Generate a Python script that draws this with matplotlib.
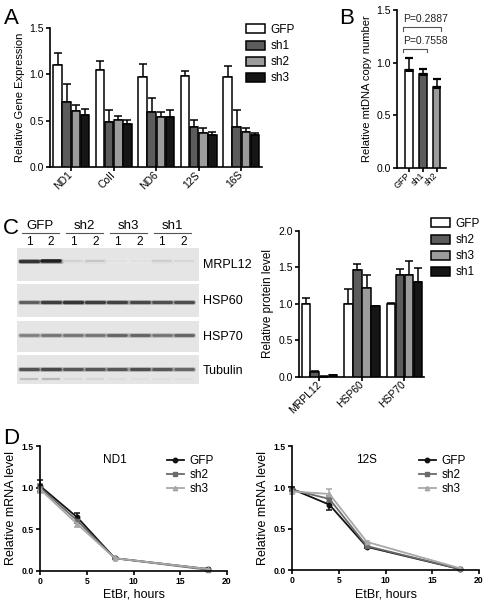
import numpy as np
import matplotlib
matplotlib.use("Agg")
import matplotlib.pyplot as plt
from matplotlib.patches import Patch, Rectangle
from matplotlib.lines import Line2D

plt.rcParams['font.family'] = ['Liberation Sans', 'DejaVu Sans']

# ---- panel A: mitochondrial transcripts
genes = ["ND1", "CoII", "ND6", "12S", "16S"]
a_names = ["GFP", "sh1", "sh2", "sh3"]
a_gfp = [1.10, 1.05, 0.97, 0.98, 0.97]
a_sh1 = [0.70, 0.49, 0.59, 0.43, 0.43]
a_sh2 = [0.60, 0.51, 0.54, 0.37, 0.38]
a_sh3 = [0.56, 0.46, 0.54, 0.35, 0.35]
a_gfp_err = [0.13, 0.09, 0.14, 0.06, 0.12]
a_sh1_err = [0.20, 0.13, 0.15, 0.08, 0.18]
a_sh2_err = [0.07, 0.04, 0.05, 0.05, 0.04]
a_sh3_err = [0.07, 0.05, 0.07, 0.03, 0.02]

# ---- panel B: mtDNA copy number
b_names = ["GFP", "sh1", "sh2"]
b_vals = [0.93, 0.89, 0.77]
b_err = [0.11, 0.05, 0.07]
b_pvals = ["P=0.7558", "P=0.2887"]

# ---- panel C: western blot + quantification
blot_groups = ["GFP", "sh2", "sh3", "sh1"]
lane_nums = ["1", "2", "1", "2", "1", "2", "1", "2"]
blot_proteins = ["MRPL12", "HSP60", "HSP70", "Tubulin"]
band_mrpl12 = [0.85, 0.95, 0.10, 0.15, 0.03, 0.03, 0.12, 0.08]
band_hsp60 = [0.65, 0.80, 0.85, 0.80, 0.78, 0.75, 0.72, 0.72]
band_hsp70 = [0.50, 0.55, 0.55, 0.55, 0.62, 0.62, 0.55, 0.62]
band_tubulin = [0.70, 0.75, 0.68, 0.68, 0.68, 0.72, 0.68, 0.62]
band_tub_low = [0.25, 0.30, 0.08, 0.10, 0.05, 0.05, 0.05, 0.05]

proteins = ["MRPL12", "HSP60", "HSP70"]
c_names = ["GFP", "sh2", "sh3", "sh1"]
c_gfp = [1.00, 1.00, 1.00]
c_sh2 = [0.06, 1.46, 1.39]
c_sh3 = [0.00, 1.22, 1.40]
c_sh1 = [0.02, 0.97, 1.30]
c_gfp_err = [0.08, 0.21, 0.01]
c_sh2_err = [0.02, 0.09, 0.09]
c_sh3_err = [0.01, 0.18, 0.19]
c_sh1_err = [0.01, 0.00, 0.19]

# ---- panel D: mRNA decay after EtBr
hours = [0, 4, 8, 18]
nd1_gfp = [1.02, 0.64, 0.15, 0.02]
nd1_sh2 = [1.00, 0.60, 0.15, 0.01]
nd1_sh3 = [0.98, 0.56, 0.15, 0.02]
nd1_gfp_err = [0.07, 0.05, 0.01, 0.01]
nd1_sh2_err = [0.04, 0.03, 0.01, 0.01]
nd1_sh3_err = [0.04, 0.03, 0.01, 0.01]
s12_gfp = [0.98, 0.79, 0.28, 0.01]
s12_sh2 = [0.97, 0.86, 0.29, 0.01]
s12_sh3 = [0.95, 0.92, 0.34, 0.02]
s12_gfp_err = [0.02, 0.07, 0.01, 0.01]
s12_sh2_err = [0.02, 0.04, 0.01, 0.01]
s12_sh3_err = [0.03, 0.06, 0.01, 0.01]

W, H = 486, 604
fig = plt.figure(figsize=(W / 100, H / 100), dpi=100)


def px(x0, ytop, x1, ybot):
    return [x0 / W, 1 - ybot / H, (x1 - x0) / W, (ybot - ytop) / H]


def style(ax, lw=1.2):
    for s in ["top", "right"]:
        ax.spines[s].set_visible(False)
    for s in ["left", "bottom"]:
        ax.spines[s].set_linewidth(lw)
    ax.tick_params(direction="out", length=3, width=lw, pad=1.5)


def grouped(ax, series, errs, colors, offsets, width):
    n = len(series[0])
    for vals, e, c, off in zip(series, errs, colors, offsets):
        x = np.arange(n) + off
        ax.bar(x, vals, width, color=c, edgecolor="black", linewidth=1.1, zorder=3)
        ax.errorbar(x, vals, yerr=[np.zeros(n), e], fmt="none", ecolor="black",
                    elinewidth=1.1, capsize=3, capthick=1.1, zorder=2)


offs = [-0.32, -0.11, 0.11, 0.32]

# A
axA = fig.add_axes(px(50, 28, 262, 167))
a_cols = ["white", "#5c5c5c", "#9c9c9c", "#161616"]
grouped(axA, [a_gfp, a_sh1, a_sh2, a_sh3],
        [a_gfp_err, a_sh1_err, a_sh2_err, a_sh3_err], a_cols, offs, 0.2)
axA.set_xlim(-0.5, 4.49)
axA.set_ylim(0, 1.5)
axA.set_yticks([0, 0.5, 1.0, 1.5])
axA.set_yticklabels(["0.0", "0.5", "1.0", "1.5"], fontsize=7.5)
axA.set_xticks(range(len(genes)))
axA.set_xticklabels(genes, fontsize=7.5, rotation=45, ha="right", va="center",
                    rotation_mode="anchor")
axA.set_ylabel("Relative Gene Expression", fontsize=8, labelpad=3)
style(axA)
fig.legend(handles=[Patch(facecolor=c, edgecolor="black", linewidth=1.1, label=l)
                    for c, l in zip(a_cols, a_names)],
           loc="upper left", bbox_to_anchor=(246 / W, 1 - 24 / H), frameon=False,
           fontsize=8.5, handlelength=1.6, handleheight=0.8, handletextpad=0.5,
           labelspacing=0.35, borderpad=0, borderaxespad=0)

# B
axB = fig.add_axes(px(397, 10, 446, 167.7))
b_cols = ["white", "#5c5c5c", "#9c9c9c"]
bx = np.arange(len(b_vals))
axB.bar(bx, b_vals, 0.58, color=b_cols, edgecolor="black", linewidth=1.1, zorder=3)
axB.errorbar(bx, b_vals, yerr=[np.zeros(3), b_err], fmt="none", ecolor="black",
             elinewidth=1.1, capsize=3, capthick=1.6, zorder=2)
axB.hlines(b_vals, bx - 0.29, bx + 0.29, color="black", lw=2.2, zorder=4)
axB.set_xlim(-0.87, 2.69)
axB.set_ylim(0, 1.5)
axB.set_yticks([0, 0.5, 1.0, 1.5])
axB.set_yticklabels(["0.0", "0.5", "1.0", "1.5"], fontsize=7.5)
axB.set_xticks(bx)
axB.set_xticklabels(b_names, fontsize=6.5, rotation=45, ha="right", va="center",
                    rotation_mode="anchor")
axB.set_ylabel("Relative mtDNA copy number", fontsize=8, labelpad=3)
style(axB)
for (j, yb, yt), p in zip([(1, 1.10, 1.13), (2, 1.30, 1.34)], b_pvals):
    axB.plot([-0.4, -0.4, j + 0.3, j + 0.3], [yb, yt, yt, yb], color="#555555",
             lw=0.8, clip_on=False)
    axB.text(-0.42, yt + 0.03, p, fontsize=7.5, ha="left", va="bottom", color="#222222")

# C blot, drawn on a full-figure overlay
ov = fig.add_axes([0, 0, 1, 1])
ov.set_xlim(0, W)
ov.set_ylim(H, 0)
ov.axis("off")
lane_x = 29 + 22.1 * np.arange(8)
panels = [(248, 281), (284, 317), (321, 352), (355, 384)]
band_y = [260.5, 301.5, 334.5, 368.5]
bands = [band_mrpl12, band_hsp60, band_hsp70, band_tubulin]
for (t, b), yb, inten, name in zip(panels, band_y, bands, blot_proteins):
    ov.add_patch(Rectangle((17, t), 182, b - t, facecolor="#e5e5e5", edgecolor="none"))
    for lx, v in zip(lane_x, inten):
        g = 0.9 - 0.82 * v
        ov.plot([lx - 9.5, lx + 9.5], [yb, yb], color=str(g + 0.05), lw=3.6,
                alpha=0.35, solid_capstyle="round")
        ov.plot([lx - 9, lx + 9], [yb, yb], color=str(g), lw=1.2 + 1.4 * v,
                solid_capstyle="round")
    ov.text(203, (t + b) / 2 + 1, name, fontsize=9, ha="left", va="center")
for lx, v in zip(lane_x, band_tub_low):
    ov.plot([lx - 8, lx + 8], [379, 379], color=str(0.9 - 0.6 * v), lw=1.6)
for k, g in enumerate(blot_groups):
    cx = (lane_x[2 * k] + lane_x[2 * k + 1]) / 2
    ov.text(cx, 226, g, fontsize=9.5, ha="center", va="center")
    ov.plot([cx - 18.5, cx + 18.5], [233, 233], color="#555555", lw=0.8)
for lx, n in zip(lane_x, lane_nums):
    ov.text(lx, 242, n, fontsize=8.5, ha="center", va="center")

for letter, (x, y) in zip("ABCD", [(4, 19), (339, 19), (3, 228), (3, 438)]):
    ov.text(x, y, letter, fontsize=16, ha="left", va="center")

# C quantification
axC = fig.add_axes(px(299, 231, 424, 376.7))
c_cols = ["white", "#5c5c5c", "#9c9c9c", "#161616"]
grouped(axC, [c_gfp, c_sh2, c_sh3, c_sh1],
        [c_gfp_err, c_sh2_err, c_sh3_err, c_sh1_err], c_cols, offs, 0.2)
axC.set_xlim(-0.48, 2.46)
axC.set_ylim(0, 2.0)
axC.set_yticks([0, 0.5, 1.0, 1.5, 2.0])
axC.set_yticklabels(["0.0", "0.5", "1.0", "1.5", "2.0"], fontsize=7.5)
axC.set_xticks(range(3))
axC.set_xticklabels(proteins, fontsize=7.5, rotation=45, ha="right", va="center",
                    rotation_mode="anchor")
axC.set_ylabel("Relative protein level", fontsize=8.5, labelpad=3)
style(axC)
fig.legend(handles=[Patch(facecolor=c, edgecolor="black", linewidth=1.1, label=l)
                    for c, l in zip(c_cols, c_names)],
           loc="upper left", bbox_to_anchor=(431 / W, 1 - 218 / H), frameon=False,
           fontsize=8.5, handlelength=1.6, handleheight=0.8, handletextpad=0.5,
           labelspacing=0.35, borderpad=0, borderaxespad=0)


# D
def decay(ax, title, series, errs):
    cols = ["#111111", "#6a6a6a", "#a8a8a8"]
    marks = ["o", "s", "^"]
    names = ["GFP", "sh2", "sh3"]
    for v, e, c, m, n in zip(series, errs, cols, marks, names):
        ax.errorbar(hours, v, yerr=e, color=c, marker=m, ms=3.2, lw=1.3,
                    elinewidth=1.1, capsize=2.5, capthick=1.1, label=n,
                    clip_on=False)
    ax.set_xlim(0, 20)
    ax.set_ylim(0, 1.5)
    ax.set_xticks([0, 5, 10, 15, 20])
    ax.set_yticks([0, 0.5, 1.0, 1.5])
    ax.set_yticklabels(["0.0", "0.5", "1.0", "1.5"])
    for lab in ax.get_xticklabels() + ax.get_yticklabels():
        lab.set_fontsize(6.2)
        lab.set_fontweight("bold")
    ax.set_xlabel("EtBr, hours", fontsize=9, labelpad=2)
    ax.set_ylabel("Relative mRNA level", fontsize=9, labelpad=3)
    ax.text(8, 1.33, title, fontsize=8.5, ha="center", va="center")
    style(ax)
    ax.legend(handles=[Line2D([], [], color=c, marker=m, ms=3.2, lw=1.3, label=n)
                       for c, m, n in zip(cols, marks, names)],
              loc="upper left", bbox_to_anchor=(0.68, 0.93), frameon=False,
              fontsize=8.5, handlelength=1.4, handletextpad=0.5,
              labelspacing=0.2, borderpad=0, borderaxespad=0)


axD1 = fig.add_axes(px(40, 446, 227, 570.7))
decay(axD1, "ND1", [nd1_gfp, nd1_sh2, nd1_sh3], [nd1_gfp_err, nd1_sh2_err, nd1_sh3_err])
axD2 = fig.add_axes(px(292, 446, 479, 570))
decay(axD2, "12S", [s12_gfp, s12_sh2, s12_sh3], [s12_gfp_err, s12_sh2_err, s12_sh3_err])

fig.savefig("out.png", dpi=100)
